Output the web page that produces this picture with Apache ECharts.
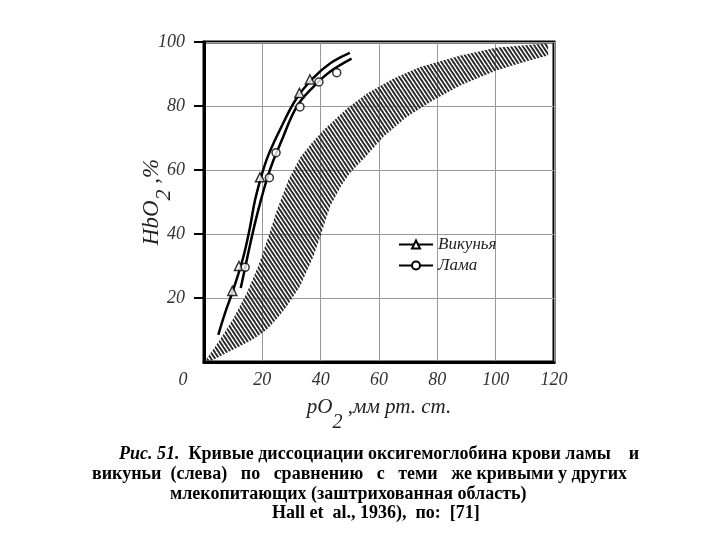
<!DOCTYPE html>
<html><head><meta charset="utf-8">
<script src="https://cdn.jsdelivr.net/npm/echarts@6/dist/echarts.min.js"></script>
<style>html,body{margin:0;padding:0;background:#fff}#c{width:720px;height:540px}</style>
</head><body><div id="c"></div>
<script>
// ---- data ----
const xTicks = [0, 20, 40, 60, 80, 100, 120];
const yTicks = [0, 20, 40, 60, 80, 100];

const vicunaCurve = [[4.9,8.5],[7.2,15.3],[10,22.5],[13.5,32.9],[15.8,42.3],[17.5,50.6],[19.8,58.5],[22,64.5],[26,72.5],[31.8,82.5],[37.5,88.8],[43.2,93.3],[50,96.6]];
const llamaCurve  = [[12.6,23.1],[14.9,32.9],[17.2,42.3],[19.5,50.6],[21.7,57.5],[23.7,62.8],[26.3,68.5],[31.8,79.8],[37.5,86],[43.2,90.7],[50.6,94.8]];

const vicunaPoints = [[9.7,22.2],[12.0,30],[19.2,57.7],[32.7,84.1],[36.3,88.3]];
const llamaPoints  = [[14.1,29.6],[22.4,57.6],[24.7,65.4],[32.9,79.7],[39.4,87.5],[45.5,90.4]];

const bandUpper = [[0.5,0.5],[5.5,7],[10,13.5],[14.6,21.5],[18.6,30],[22,39],[25,47.5],[29,57],[33,64],[37,68.5],[41,72.5],[49,79.2],[56,84],[65,88.6],[74,92.2],[88,95.8],[100,98.2],[110,99],[118,99.6]];
const bandLower = [[2.5,0.3],[7,2.5],[12.3,4.9],[17,7.2],[21.5,10.1],[25,13.5],[28.3,17.3],[32.9,23.6],[37.5,33],[40,39.5],[43.2,48.5],[47,55],[50,59],[55.8,64.5],[61.5,70.4],[69.5,76.6],[78.6,81.8],[88,86.5],[100,91],[110,93.8],[118,95.8]];

const legendNames = ['Викунья', 'Лама'];
const captionLines = [
  '{bi|Рис. 51.}  Кривые диссоциации оксигемоглобина крови ламы    и',
  'викуньи  (слева)   по   сравнению   с   теми   же кривыми у других',
  'млекопитающих (заштрихованная область)',
  'Hall et  al., 1936),  по:  [71]'
];

// ---- hatch pattern ----
function makeHatch() {
  const w = 4, h = 6;
  const c = document.createElement('canvas');
  c.width = w; c.height = h;
  const g = c.getContext('2d');
  g.strokeStyle = '#2a2a2a';
  g.lineWidth = 1.9;
  for (let k = -1; k <= 1; k++) {
    g.beginPath();
    g.moveTo(-w, -h + k * h);
    g.lineTo(2 * w, 2 * h + k * h);
    g.stroke();
  }
  return c;
}
const hatch = makeHatch();

const serif = '"Liberation Serif", "DejaVu Serif", serif';
const chart = echarts.init(document.getElementById('c'));

chart.setOption({
  animation: false,
  backgroundColor: '#fff',
  grid: { left: 204, right: 166, top: 42, bottom: 178, show: true, borderColor: '#000', borderWidth: 3 },
  xAxis: {
    type: 'value', min: xTicks[0], max: xTicks[xTicks.length - 1], interval: xTicks[1] - xTicks[0],
    name: '{m|pO}{s|2}{m| ,мм рт. ст.}', nameLocation: 'middle', nameGap: 35, nameMoveOverlap: false,
    nameTextStyle: {
      fontFamily: serif, fontStyle: 'italic', fontSize: 21, color: '#222',
      rich: {
        m: { fontFamily: serif, fontStyle: 'italic', fontSize: 21, color: '#222', padding: [0, 0, 15, 0] },
        s: { fontFamily: serif, fontStyle: 'italic', fontSize: 20, color: '#222', padding: [15, 0, 0, 0] }
      }
    },
    axisLine: { show: true, lineStyle: { color: '#000', width: 3 } },
    axisTick: { show: false },
    splitLine: { show: true, lineStyle: { color: '#999', width: 1 } },
    axisLabel: {
      margin: 9, fontFamily: serif, fontStyle: 'italic', fontSize: 18, color: '#333',
      formatter: v => v === 0 ? '{z|0}' : String(v),
      rich: { z: { fontFamily: serif, fontStyle: 'italic', fontSize: 18, color: '#333', padding: [0, 42, 0, 0] } }
    }
  },
  yAxis: {
    type: 'value', min: yTicks[0], max: yTicks[yTicks.length - 1], interval: yTicks[1] - yTicks[0],
    name: '{m|HbO}{s|2}{m| ,%}', nameLocation: 'middle', nameGap: 28, nameRotate: 90, nameMoveOverlap: false,
    nameTextStyle: {
      fontFamily: serif, fontStyle: 'italic', fontSize: 23, color: '#222',
      rich: {
        m: { fontFamily: serif, fontStyle: 'italic', fontSize: 23, color: '#222', padding: [0, 0, 13, 0] },
        s: { fontFamily: serif, fontStyle: 'italic', fontSize: 22, color: '#222', padding: [13, 0, 0, 0] }
      }
    },
    axisLine: { show: true, lineStyle: { color: '#000', width: 3 } },
    axisTick: { show: true, inside: false, length: 10, customValues: yTicks.slice(1), lineStyle: { color: '#000', width: 2 } },
    splitLine: { show: true, lineStyle: { color: '#999', width: 1 } },
    axisLabel: {
      margin: 19, fontFamily: serif, fontStyle: 'italic', fontSize: 18, color: '#333',
      formatter: v => v === 0 ? '' : String(v)
    }
  },
  legend: {
    data: legendNames, orient: 'vertical', left: 393, top: 231,
    itemWidth: 34, itemHeight: 10, itemGap: 4,
    textStyle: { fontFamily: serif, fontStyle: 'italic', fontSize: 17, color: '#222' }
  },
  series: [
    {
      type: 'custom', name: 'band', silent: true,
      data: [[0, 0]],
      renderItem: function (params, api) {
        const pts = [];
        bandUpper.forEach(p => pts.push(api.coord(p)));
        for (let i = bandLower.length - 1; i >= 0; i--) pts.push(api.coord(bandLower[i]));
        return { type: 'polygon', shape: { points: pts }, style: { fill: { image: hatch, repeat: 'repeat' }, stroke: null } };
      },
      z: 1
    },
    {
      type: 'line', name: legendNames[0], data: vicunaCurve, smooth: 0.4,
      symbol: 'triangle', showSymbol: false,
      lineStyle: { color: '#000', width: 2.5 },
      itemStyle: { color: '#fff', borderColor: '#000', borderWidth: 1.5 }, z: 3
    },
    {
      type: 'line', name: legendNames[1], data: llamaCurve, smooth: 0.4,
      symbol: 'circle', showSymbol: false,
      lineStyle: { color: '#000', width: 2.5 },
      itemStyle: { color: '#fff', borderColor: '#000', borderWidth: 1.5 }, z: 3
    },
    {
      type: 'scatter', name: 'vicunaPts', data: vicunaPoints, symbol: 'triangle', symbolSize: 9,
      itemStyle: { color: '#fff', borderColor: '#000', borderWidth: 1.5 }, z: 4
    },
    {
      type: 'scatter', name: 'llamaPts', data: llamaPoints, symbol: 'circle', symbolSize: 8,
      itemStyle: { color: '#fff', borderColor: '#000', borderWidth: 1.5 }, z: 4
    }
  ],
  graphic: [
    { type: 'text', left: 119, top: 445, style: { text: captionLines[0], fontFamily: serif, fontWeight: 'bold', fontSize: 18, fill: '#000',
      rich: { bi: { fontFamily: serif, fontWeight: 'bold', fontStyle: 'italic', fontSize: 18, fill: '#000' } } } },
    { type: 'text', left: 92, top: 465, style: { text: captionLines[1], fontFamily: serif, fontWeight: 'bold', fontSize: 18, fill: '#000' } },
    { type: 'text', left: 170, top: 485, style: { text: captionLines[2], fontFamily: serif, fontWeight: 'bold', fontSize: 18, fill: '#000' } },
    { type: 'text', left: 272, top: 504, style: { text: captionLines[3], fontFamily: serif, fontWeight: 'bold', fontSize: 18, fill: '#000' } }
  ]
});
</script>
</body></html>
